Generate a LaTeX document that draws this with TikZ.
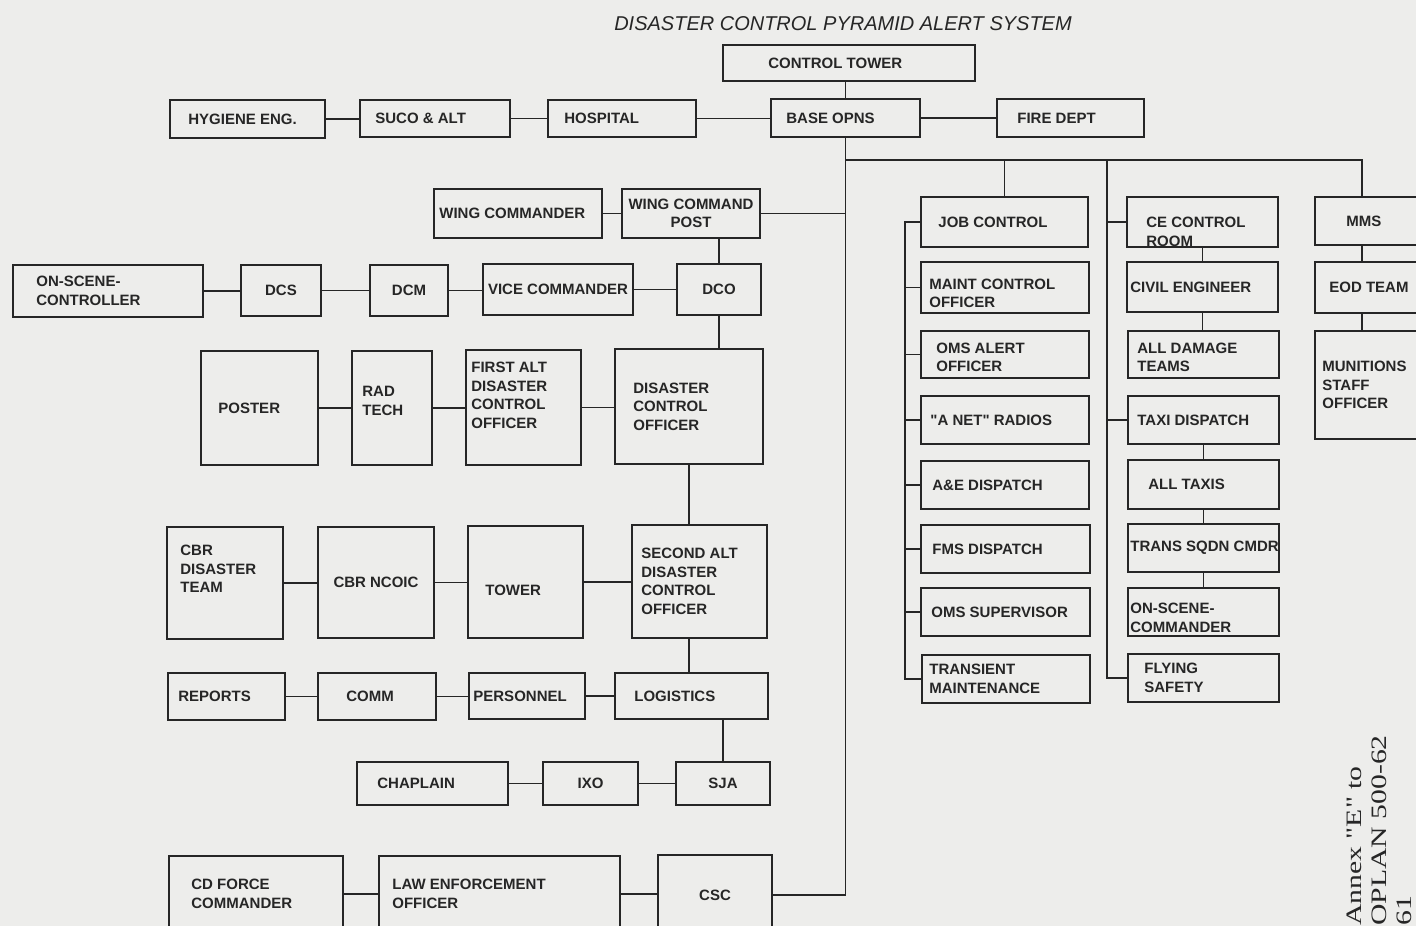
\documentclass[tikz,border=0pt]{standalone}
\usepackage{fontspec}
\setmainfont{Liberation Sans}
\newfontfamily\annexfont{Liberation Serif}
\definecolor{ink}{RGB}{38,38,38}
\definecolor{paper}{RGB}{237,237,235}
\newcommand\lblfont{\fontsize{15}{18.5}\selectfont\bfseries}
\newcommand\titlefont{\fontsize{20}{24}\selectfont\itshape}
% box with text set from the left edge: [text opts]{name}{x1}{y1}{x2}{y2}{pad}{text}
\newcommand\orgbox[8][]{%
  \node[box, minimum width={#5-#3}, minimum height={#6-#4}] (#2) at ({(#3+#5)/2},{(#4+#6)/2}) {};
  \node[lbl, anchor=west, #1] (#2-t) at ([xshift=#7]#2.west) {#8};}
% box with centred text: {name}{x1}{y1}{x2}{y2}{text}
\newcommand\orgboxc[6]{%
  \node[box, minimum width={#4-#2}, minimum height={#5-#3}] (#1) at ({(#2+#4)/2},{(#3+#5)/2}) {#6};}
\begin{document}
\begin{tikzpicture}[x=1pt, y=-1pt,
  box/.style={draw=ink, line width=1.6pt, inner sep=0pt, font=\lblfont, text=ink, align=center},
  lbl/.style={inner sep=0pt, font=\lblfont, text=ink, align=left},
  link/.style={draw=ink, line width=1.6pt},
  annex/.style={inner sep=0pt, text=ink, font={\annexfont\fontsize{22}{25}\selectfont}}]
  \useasboundingbox (0,0) rectangle (1416,926);
  \fill[paper] (0,0) rectangle (1416,926);
  \clip (0,0) rectangle (1416,926);

  \node[font=\titlefont, text=ink] (title) at (843,24) {DISASTER CONTROL PYRAMID ALERT SYSTEM};

  % top row
  \orgbox{ctower}{723}{45}{975}{81}{46}{CONTROL TOWER}
  \orgbox{hygiene}{170}{100}{325}{138}{19}{HYGIENE ENG.}
  \orgbox{suco}{360}{100}{510}{137}{16}{SUCO \& ALT}
  \orgbox{hospital}{548}{100}{696}{137}{17}{HOSPITAL}
  \orgbox{baseopns}{771}{99}{920}{137}{16}{BASE OPNS}
  \orgbox{firedept}{997}{99}{1144}{137}{21}{FIRE DEPT}

  % pyramid
  \orgbox{wingcdr}{434}{189}{602}{238}{6}{WING COMMANDER}
  \orgboxc{wingcp}{622}{189}{760}{238}{WING COMMAND\\POST}

  \orgbox{osc}{13}{265}{203}{317}{24}{ON-SCENE-\\CONTROLLER}
  \orgboxc{dcs}{241}{265}{321}{316}{DCS}
  \orgboxc{dcm}{370}{265}{448}{316}{DCM}
  \orgboxc{vicecdr}{483}{264}{633}{315}{VICE COMMANDER}
  \orgboxc{dco}{677}{264}{761}{315}{DCO}

  \orgbox{poster}{201}{351}{318}{465}{18}{POSTER}
  \orgbox[yshift=7]{radtech}{352}{351}{432}{465}{11}{RAD\\TECH}
  \orgbox[yshift=12]{firstalt}{466}{350}{581}{465}{6}{FIRST ALT\\DISASTER\\CONTROL\\OFFICER}
  \orgbox{dcofficer}{615}{349}{763}{464}{19}{DISASTER\\CONTROL\\OFFICER}

  \orgbox[yshift=14]{cbrteam}{167}{527}{283}{639}{14}{CBR\\DISASTER\\TEAM}
  \orgboxc{cbrncoic}{318}{527}{434}{638}{CBR NCOIC}
  \orgbox[yshift=-8]{tower}{468}{526}{583}{638}{18}{TOWER}
  \orgbox{secondalt}{632}{525}{767}{638}{10}{SECOND ALT\\DISASTER\\CONTROL\\OFFICER}

  \orgbox{reports}{168}{673}{285}{720}{11}{REPORTS}
  \orgbox{comm}{318}{673}{436}{720}{29}{COMM}
  \orgbox{personnel}{469}{673}{585}{719}{5}{PERSONNEL}
  \orgbox{logistics}{615}{673}{768}{719}{20}{LOGISTICS}

  \orgbox{chaplain}{357}{762}{508}{805}{21}{CHAPLAIN}
  \orgboxc{ixo}{543}{762}{638}{805}{IXO}
  \orgboxc{sja}{676}{762}{770}{805}{SJA}

  \orgbox{cdforce}{169}{856}{343}{932}{23}{CD FORCE\\COMMANDER}
  \orgbox{lawenf}{379}{856}{620}{932}{14}{LAW ENFORCEMENT\\OFFICER}
  \orgboxc{csc}{658}{855}{772}{935}{CSC}

  % right hand columns
  \orgbox{jobctl}{921}{197}{1088}{247}{18}{JOB CONTROL}
  \orgbox[yshift=-6]{maint}{921}{262}{1089}{313}{9}{MAINT CONTROL\\OFFICER}
  \orgbox[yshift=-3]{omsalert}{921}{331}{1089}{378}{16}{OMS ALERT\\OFFICER}
  \orgbox{anet}{921}{396}{1089}{444}{10}{\textquotedbl A NET\textquotedbl\ RADIOS}
  \orgbox{aedisp}{921}{461}{1089}{509}{12}{A\&E DISPATCH}
  \orgbox{fmsdisp}{921}{525}{1090}{573}{12}{FMS DISPATCH}
  \orgbox{omssup}{921}{588}{1090}{636}{11}{OMS SUPERVISOR}
  \orgbox{transient}{922}{655}{1090}{703}{8}{TRANSIENT\\MAINTENANCE}

  \orgbox[yshift=-10]{cectl}{1127}{197}{1278}{247}{20}{CE CONTROL\\ROOM}
  \orgbox{civileng}{1127}{262}{1278}{312}{4}{CIVIL ENGINEER}
  \orgbox[yshift=-3]{alldamage}{1128}{331}{1279}{378}{10}{ALL DAMAGE\\TEAMS}
  \orgbox{taxidisp}{1128}{396}{1279}{444}{10}{TAXI DISPATCH}
  \orgbox{alltaxis}{1128}{460}{1279}{509}{21}{ALL TAXIS}
  \orgbox{transsqdn}{1128}{524}{1279}{572}{3}{TRANS SQDN CMDR}
  \orgbox[yshift=-6]{onscene}{1128}{588}{1279}{636}{3}{ON-SCENE-\\COMMANDER}
  \orgbox{flying}{1128}{654}{1279}{702}{17}{FLYING\\SAFETY}

  \orgbox{mms}{1315}{197}{1420}{245}{32}{MMS}
  \orgbox{eod}{1315}{262}{1420}{313}{15}{EOD TEAM}
  \orgbox{munitions}{1315}{331}{1420}{439}{8}{MUNITIONS\\STAFF\\OFFICER}

  % connectors
  \coordinate (fork) at (845.5,160);
  \coordinate (spine1) at (905,0);
  \coordinate (spine2) at (1107,0);
  \coordinate (c3) at (1362,0);

  \foreach \a/\b in {hygiene/suco, suco/hospital, hospital/baseopns, baseopns/firedept,
      wingcdr/wingcp, osc/dcs, dcs/dcm, dcm/vicecdr, vicecdr/dco,
      poster/radtech, radtech/firstalt, firstalt/dcofficer,
      cbrteam/cbrncoic, cbrncoic/tower, tower/secondalt,
      reports/comm, comm/personnel, personnel/logistics,
      chaplain/ixo, ixo/sja, cdforce/lawenf, lawenf/csc}
    \draw[link] (\a.east) -- (\a.east -| \b.west);

  \draw[link] (baseopns.north) -- (baseopns.north |- ctower.south);
  \draw[link] (baseopns.south) |- (csc.east);
  \draw[link] (wingcp.east) -- (wingcp.east -| fork);
  \draw[link] (dco.north) -- (dco.north |- wingcp.south);
  \draw[link] (dco.south) -- (dco.south |- dcofficer.north);
  \draw[link] (dcofficer.south) -- (dcofficer.south |- secondalt.north);
  \draw[link] (dcofficer.south |- secondalt.south) -- (dcofficer.south |- logistics.north);
  \draw[link] (sja.north) -- (sja.north |- logistics.south);

  \draw[link] (fork) -| (c3 |- mms.north);
  \draw[link] (jobctl.north |- fork) -- (jobctl.north);
  \draw[link] (jobctl.west) -- (spine1 |- jobctl.west) |- (transient.west);
  \foreach \n in {maint, omsalert, anet, aedisp, fmsdisp, omssup}
    \draw[link] (\n.west) -- (spine1 |- \n.west);
  \draw[link] (spine2 |- fork) |- (flying.west);
  \foreach \n in {cectl, taxidisp}
    \draw[link] (\n.west) -- (spine2 |- \n.west);
  \foreach \a/\b in {cectl/civileng, civileng/alldamage, taxidisp/alltaxis,
      alltaxis/transsqdn, transsqdn/onscene}
    \draw[link] (\a.south) -- (\a.south |- \b.north);
  \draw[link] (c3 |- mms.south) -- (c3 |- eod.north);
  \draw[link] (c3 |- eod.south) -- (c3 |- munitions.north);

  \node[annex, rotate=90, xscale=1.35, anchor=north west, align=left] (annex)
    at (1347,926) {Annex \textquotedbl E\textquotedbl\ to\\OPLAN 500-62\\61};
\end{tikzpicture}
\end{document}
